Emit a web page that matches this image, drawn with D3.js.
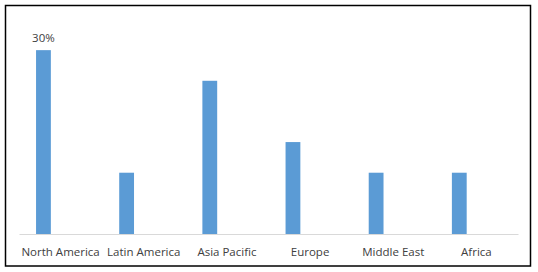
<!DOCTYPE html>
<html>
<head>
<meta charset="utf-8">
<script src="https://cdn.jsdelivr.net/npm/d3@7"></script>
<style>
  body { margin: 0; background: #fff; }
  text { font-family: "Open Sans", sans-serif; font-size: 11.5px; fill: #404040; }
</style>
</head>
<body>
<div id="chart"></div>
<script>
// data
const regions = ["North America", "Latin America", "Asia Pacific", "Europe", "Middle East", "Africa"];
const shares = [30, 10, 25, 15, 10, 10];
const labelled = ["North America"];

const W = 538, H = 272;
const svg = d3.select("#chart").append("svg")
    .attr("width", W)
    .attr("height", H);

// outer frame
svg.append("rect")
    .attr("x", 5.5).attr("y", 5.5)
    .attr("width", 525).attr("height", 260.5)
    .attr("fill", "#fff")
    .attr("stroke", "#000")
    .attr("stroke-width", 1.5);

//---------------------------- scales ----------------------------//
const x = d3.scaleBand().domain(regions).range([19, 518]);
const y = d3.scaleLinear().domain([0, 35]).range([234, 19.5]);

//---------------------------- bars ----------------------------//
const data = regions.map((r, i) => ({ region: r, value: shares[i] }));

svg.selectAll(".bar")
    .data(data)
    .enter().append("rect")
    .attr("class", "bar")
    .attr("x", d => x(d.region) + x.bandwidth() * 0.205)
    .attr("width", x.bandwidth() * 0.178)
    .attr("y", d => y(d.value))
    .attr("height", d => y(0) - y(d.value))
    .attr("fill", "#5b9bd5");

// value label only on first bar
svg.selectAll(".val")
    .data(data.filter(d => labelled.includes(d.region)))
    .enter().append("text")
    .attr("class", "val")
    .attr("x", d => x(d.region) + x.bandwidth() * 0.294)
    .attr("y", d => y(d.value) - 8)
    .attr("text-anchor", "middle")
    .text(d => d.value + "%");

//---------------------------- axis ----------------------------//
const xAxis = svg.append("g")
    .attr("transform", "translate(0," + y(0) + ")")
    .call(d3.axisBottom(x).tickSize(0).tickPadding(14));
xAxis.select(".domain").attr("stroke", "#d9d9d9");
xAxis.selectAll("text")
    .style("font-family", "'Open Sans', sans-serif")
    .style("font-size", "11.5px")
    .attr("fill", "#404040");
</script>
</body>
</html>
